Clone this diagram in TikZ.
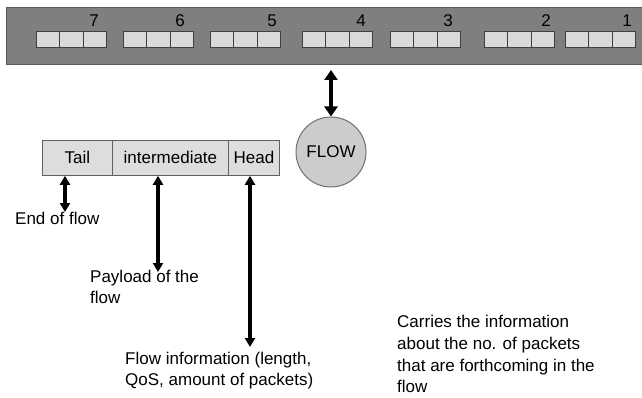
\documentclass[tikz,border=0pt]{standalone}
\usepackage{fontspec}
\setmainfont{Liberation Sans}
\usetikzlibrary{arrows.meta}
\definecolor{bandgray}{HTML}{7F7F7F}
\definecolor{bandedge}{HTML}{5A5A5A}
\definecolor{cellgray}{HTML}{D9D9D9}
\definecolor{celledge}{HTML}{404040}
\definecolor{stripgray}{HTML}{DDDDDD}
\definecolor{stripedge}{HTML}{606060}
\definecolor{circgray}{HTML}{CCCCCC}
\definecolor{circedge}{HTML}{707070}
\begin{document}
\begin{tikzpicture}[x=1pt,y=-1pt,
  font=\fontsize{17}{21}\selectfont,
  cellbox/.style={draw=celledge, fill=cellgray, line width=0.8pt, minimum width=23.33pt, minimum height=16pt, inner sep=0pt, anchor=north west},
  numlabel/.style={font=\fontsize{17}{19}\selectfont, inner sep=0pt},
  stripbox/.style={draw=stripedge, fill=stripgray, line width=0.8pt, minimum height=35pt, inner sep=0pt, anchor=north west},
  txt/.style={anchor=base west, inner sep=0pt},
  darrow/.style={line width=3.1pt, {Triangle[length=9pt,width=10pt]}-{Triangle[length=9pt,width=10pt]}},
  barrow/.style={line width=4.4pt, {Triangle[length=10pt,width=13pt]}-{Triangle[length=10pt,width=13pt]}}
]
\useasboundingbox (0,0) rectangle (642,398);
\fill[white] (0,0) rectangle (642,398);

% band
\node[draw=bandedge, fill=bandgray, line width=1pt, minimum width=650pt, minimum height=57pt, inner sep=0pt, anchor=north west] (band) at (6,7) {};

% packet groups
\foreach \gx/\lab/\nx in {36/7/94, 123/6/180, 210/5/272, 302/4/361, 390/3/448, 484/2/546, 565/1/627}{
  \node[cellbox] (c\lab a) at (\gx,31) {};
  \node[cellbox] (c\lab b) at (\gx+23.33,31) {};
  \node[cellbox] (c\lab c) at (\gx+46.67,31) {};
  \node[numlabel] (n\lab) at (\nx,21) {\lab};
}

% flow circle
\node[circle, draw=circedge, fill=circgray, line width=1pt, minimum size=70pt, inner sep=0pt] (flow) at (331,152) {FLOW};
\coordinate (bandpt) at (331,70);
\draw[barrow] (bandpt) -- (flow.north);

% strip
\node[stripbox, minimum width=70pt] (tail) at (42,140) {Tail};
\node[stripbox, minimum width=116pt] (mid) at (112,140) {intermediate};
\node[stripbox, minimum width=51pt] (head) at (228,140) {Head};

% arrows
\coordinate (tailend) at (65,212);
\coordinate (midend) at (158,272);
\coordinate (headend) at (250,347);
\draw[darrow] (tail.south -| tailend) -- (tailend);
\draw[darrow] (mid.south -| midend) -- (midend);
\draw[darrow] (head.south -| headend) -- (headend);

% texts
\node[txt] (t1) at (15,224) {End of flow};
\node[txt] (t2a) at (90,282) {Payload of the};
\node[txt] (t2b) at (90,303) {flow};
\node[txt] (t3a) at (125,364) {Flow information (length,};
\node[txt] (t3b) at (125,385) {QoS, amount of packets)};
\node[txt] (t4a) at (397,327) {Carries the information};
\node[txt] (t4b) at (397,349) {about the no. of packets};
\node[txt] (t4c) at (397,371) {that are forthcoming in the};
\node[txt] (t4d) at (397,392) {flow};
\end{tikzpicture}
\end{document}
